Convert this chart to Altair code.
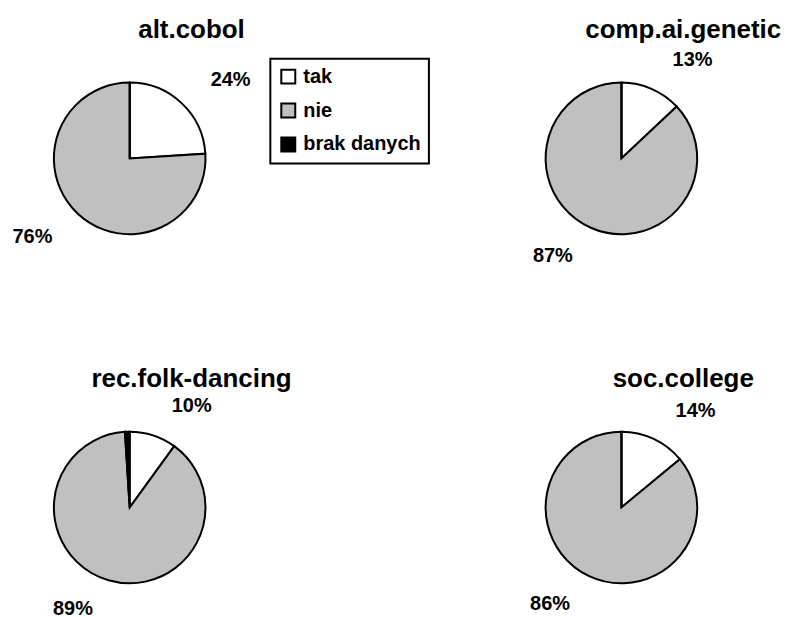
import altair as alt
import pandas as pd

groups = ["alt.cobol", "comp.ai.genetic", "rec.folk-dancing", "soc.college"]
categories = ["tak", "nie", "brak danych"]
tak = [24, 13, 10, 14]
nie = [76, 87, 89, 86]
brak = [0, 0, 1, 0]
colors = ["#ffffff", "#c0c0c0", "#000000"]

FONT = "Liberation Sans"


def panel(i):
    vals = [tak[i], nie[i], brak[i]]
    df = pd.DataFrame({
        "odp": categories,
        "v": vals,
        "idx": [0, 1, 2],
        "lbl": [f"{v}%" for v in vals],
    })
    base = alt.Chart(df).encode(
        theta=alt.Theta("v:Q", stack=True),
        order=alt.Order("idx:Q"),
    )
    arc = base.mark_arc(outerRadius=76, stroke="black", strokeWidth=2).encode(
        color=alt.Color(
            "odp:N",
            scale=alt.Scale(domain=categories, range=colors),
            legend=alt.Legend(
                title=None, orient="none", legendX=263, legendY=0,
                symbolType="square", symbolSize=196, symbolStrokeColor="black",
                symbolStrokeWidth=2, labelFont=FONT, labelFontSize=20,
                labelFontWeight="bold", labelColor="black", labelOffset=5,
                rowPadding=12, padding=8, strokeColor="black", fillColor="white",
                labelLimit=300,
            ),
        )
    )
    txt_tak = base.mark_text(
        radius=104, dx=30, dy=-3, font=FONT, fontSize=20, fontWeight="bold", color="black"
    ).encode(text=alt.condition(alt.datum.odp == "tak", "lbl:N", alt.value("")))
    txt_nie = base.mark_text(
        radius=100, dx=-29, dy=6, font=FONT, fontSize=20, fontWeight="bold", color="black"
    ).encode(text=alt.condition(alt.datum.odp == "nie", "lbl:N", alt.value("")))
    return alt.layer(arc, txt_tak, txt_nie).properties(
        width=244,
        height=200,
        title=alt.TitleParams(
            text=groups[i], font=FONT, fontSize=26, fontWeight="bold",
            color="black", anchor="middle", dx=62, offset=-1, frame="group",
        ),
    )


chart = alt.concat(
    panel(0), panel(1), panel(2), panel(3),
    columns=2, spacing=alt.RowColnumber(column=249, row=150), bounds="flush",
).properties(
    padding={"left": 0, "top": 8, "right": 0, "bottom": 0}
).configure_view(stroke=None).configure_legend(strokeWidth=2)

chart.save("out.html", embed_options={"renderer": "svg", "actions": False})
